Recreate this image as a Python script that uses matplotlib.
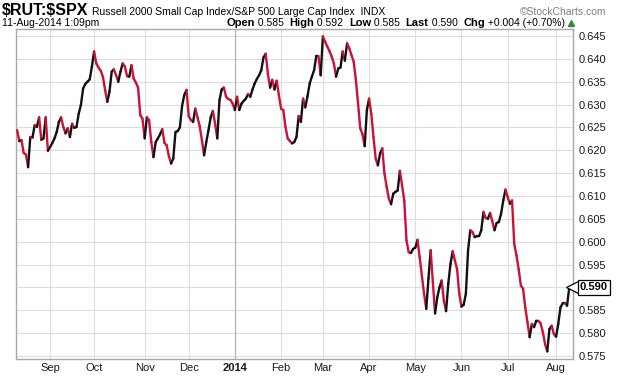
import numpy as np
import pandas as pd
import matplotlib
matplotlib.use("Agg")
import matplotlib.pyplot as plt
from matplotlib.collections import LineCollection

plt.rcParams['font.family'] = ['Liberation Sans', 'DejaVu Sans']

# ---------------- data ----------------
symbol = "$RUT:$SPX"
title_desc = "Russell 2000 Small Cap Index/S&P 500 Large Cap Index  INDX"
timestamp = "11-Aug-2014 1:09pm"
credit = "\u00a9StockCharts.com"
quote_labels = ["Open", "High", "Low", "Last", "Chg"]
quote_values = ["0.585", "0.592", "0.585", "0.590", "+0.004 (+0.70%)"]

start_date = "2013-08-12"
end_date = "2014-08-11"
market_holidays = ["2013-09-02", "2013-11-28", "2013-12-25", "2014-01-01",
                   "2014-01-20", "2014-02-17", "2014-04-18", "2014-05-26",
                   "2014-07-04"]

ratio = [
    0.6244, 0.6220, 0.6222, 0.6194, 0.6191, 0.6163, 0.6229, 0.6228, 0.6255, 0.6251,
    0.6272, 0.6223, 0.6226, 0.6272, 0.6199, 0.6207, 0.6216, 0.6226, 0.6240, 0.6262,
    0.6272, 0.6251, 0.6237, 0.6248, 0.6229, 0.6258, 0.6249, 0.6251, 0.6280, 0.6299,
    0.6335, 0.6345, 0.6350, 0.6355, 0.6383, 0.6416, 0.6390, 0.6381, 0.6374, 0.6361,
    0.6332, 0.6306, 0.6328, 0.6372, 0.6377, 0.6364, 0.6350, 0.6372, 0.6390, 0.6383,
    0.6362, 0.6361, 0.6386, 0.6357, 0.6348, 0.6337, 0.6277, 0.6269, 0.6226, 0.6272,
    0.6266, 0.6218, 0.6185, 0.6218, 0.6226, 0.6235, 0.6246, 0.6216, 0.6211, 0.6187,
    0.6171, 0.6182, 0.6240, 0.6242, 0.6250, 0.6297, 0.6321, 0.6332, 0.6275, 0.6266,
    0.6262, 0.6291, 0.6272, 0.6253, 0.6222, 0.6189, 0.6218, 0.6244, 0.6272, 0.6286,
    0.6258, 0.6226, 0.6310, 0.6333, 0.6337, 0.6317, 0.6312, 0.6310, 0.6302, 0.6288,
    0.6317, 0.6288, 0.6302, 0.6308, 0.6313, 0.6323, 0.6317, 0.6333, 0.6346, 0.6356,
    0.6364, 0.6375, 0.6403, 0.6411, 0.6368, 0.6337, 0.6354, 0.6333, 0.6352, 0.6321,
    0.6291, 0.6288, 0.6251, 0.6226, 0.6220, 0.6215, 0.6218, 0.6229, 0.6275, 0.6262,
    0.6313, 0.6294, 0.6318, 0.6346, 0.6361, 0.6375, 0.6406, 0.6406, 0.6364, 0.6449,
    0.6438, 0.6427, 0.6417, 0.6405, 0.6390, 0.6361, 0.6379, 0.6381, 0.6416, 0.6396,
    0.6434, 0.6423, 0.6408, 0.6394, 0.6354, 0.6302, 0.6248, 0.6235, 0.6209, 0.6288,
    0.6313, 0.6280, 0.6229, 0.6182, 0.6167, 0.6193, 0.6204, 0.6149, 0.6120, 0.6094,
    0.6082, 0.6105, 0.6109, 0.6112, 0.6155, 0.6123, 0.6090, 0.6003, 0.5977, 0.5975,
    0.5984, 0.5987, 0.6004, 0.5966, 0.5926, 0.5886, 0.5853, 0.5919, 0.5981, 0.5911,
    0.5843, 0.5878, 0.5900, 0.5915, 0.5871, 0.5848, 0.5908, 0.5951, 0.5979, 0.5959,
    0.5940, 0.5886, 0.5858, 0.5862, 0.5886, 0.5981, 0.6025, 0.6021, 0.6010, 0.6012,
    0.6012, 0.6025, 0.6065, 0.6052, 0.6050, 0.6063, 0.6045, 0.6025, 0.6041, 0.6043,
    0.6061, 0.6090, 0.6114, 0.6098, 0.6083, 0.6090, 0.5995, 0.5970, 0.5940, 0.5904,
    0.5897, 0.5856, 0.5824, 0.5791, 0.5820, 0.5813, 0.5827, 0.5827, 0.5821, 0.5802,
    0.5776, 0.5760, 0.5809, 0.5816, 0.5798, 0.5792, 0.5820, 0.5856, 0.5865, 0.5865,
    0.5860, 0.5900,
]

month_labels = ["Sep", "Oct", "Nov", "Dec", "2014", "Feb", "Mar", "Apr",
                "May", "Jun", "Jul", "Aug"]
y_ticks = [0.575, 0.580, 0.585, 0.590, 0.595, 0.600, 0.605, 0.610,
           0.615, 0.620, 0.625, 0.630, 0.635, 0.640, 0.645]

# ---------------- figure ----------------
W, H = 620, 376
fig = plt.figure(figsize=(W / 100, H / 100), dpi=100)
fig.patch.set_facecolor("white")
ax = fig.add_axes([16 / W, 1 - 359 / H, (573 - 16) / W, (359 - 29) / H])

dates = pd.bdate_range(start_date, end_date, freq="C", holidays=market_holidays)
n = min(len(dates), len(ratio))
dates = dates[:n]
vals = np.array(ratio[:n])
x = np.arange(n)

month_starts = [i for i in range(1, n) if dates[i].month != dates[i - 1].month]
year_starts = [i for i in month_starts if dates[i].month == 1]

# grid
for yt in y_ticks:
    ax.axhline(yt, color="#dedede", lw=0.8, zorder=0)
for i in month_starts:
    ax.axvline(i, color="#b4b4b4" if i in year_starts else "#dedede",
               lw=0.9 if i in year_starts else 0.8, zorder=0)

# up/down colored line
pts = np.column_stack([x, vals])
segs = np.stack([pts[:-1], pts[1:]], axis=1)
colors = ["#111111" if vals[k + 1] >= vals[k] else "#cc1036" for k in range(n - 1)]
lc = LineCollection(segs, colors=colors, linewidths=1.7, capstyle="round",
                    joinstyle="round", zorder=3)
ax.add_collection(lc)

ax.set_xlim(-0.5, n + 0.7)
ax.set_ylim(0.57433, 0.64653)

last = vals[-1]
ax.yaxis.tick_right()
ax.set_yticks(y_ticks)
ax.set_yticklabels(["" if abs(v - round(last, 3)) < 1e-9 else f"{v:.3f}"
                    for v in y_ticks])
ax.set_xticks(month_starts)
ax.set_xticklabels(month_labels[:len(month_starts)])
for lab, i in zip(ax.get_xticklabels(), month_starts):
    if i in year_starts:
        lab.set_fontweight("bold")
        lab.set_fontsize(9)
ax.tick_params(axis="both", length=0, labelsize=8, colors="#1a1a1a")
ax.tick_params(axis="y", pad=4)
ax.tick_params(axis="x", pad=3)
for sp in ax.spines.values():
    sp.set_color("#a8a8a8")
    sp.set_linewidth(1.0)

# last value tag
ax.plot([1.0], [last], marker="<", ms=10, mfc="white", mec="black", mew=0.9,
        transform=ax.get_yaxis_transform(), clip_on=False, zorder=5)
ax.annotate(f"{last:.3f}", xy=(1.0, last), xycoords=("axes fraction", "data"),
            xytext=(5, 0), textcoords="offset points", ha="left", va="center",
            fontsize=8, fontweight="bold", color="black", zorder=6,
            bbox=dict(boxstyle="square,pad=0.2", fc="white", ec="black", lw=0.9),
            annotation_clip=False)

# header
def fx(px):
    return px / W

def fy(py):
    return 1 - py / H

fig.text(fx(2), fy(15), symbol.replace("$", r"\$"), fontsize=11.5,
         fontweight="bold", color="black", va="baseline")
fig.text(fx(92), fy(15), title_desc, fontsize=7.5, color="black", va="baseline")
fig.text(fx(606), fy(15), credit, fontsize=7.5, color="#808080", va="baseline",
         ha="right")
fig.text(fx(2), fy(26), timestamp, fontsize=7.5, color="black", va="baseline")

fig.canvas.draw()
renderer = fig.canvas.get_renderer()
pieces = []
for k, (lb, vv) in enumerate(zip(quote_labels, quote_values)):
    pieces.append((lb, "bold"))
    pieces.append((" " + vv + ("  " if k < len(quote_labels) - 1 else ""), "normal"))
texts = []
for s, w in pieces:
    t = fig.text(0, fy(26), s, fontsize=8 if w == "bold" else 7.5,
                 fontweight=w, color="black", va="baseline")
    texts.append(t)
widths = [t.get_window_extent(renderer).width for t in texts]
total = sum(widths)
cur = 565 - total
for t, wd in zip(texts, widths):
    t.set_x(fx(cur))
    cur += wd
fig.lines.append(plt.Line2D([fx(571)], [fy(23)], marker="^", ms=5,
                            color="#2e8b3a", transform=fig.transFigure))

fig.savefig("out.png", dpi=100, facecolor="white")
